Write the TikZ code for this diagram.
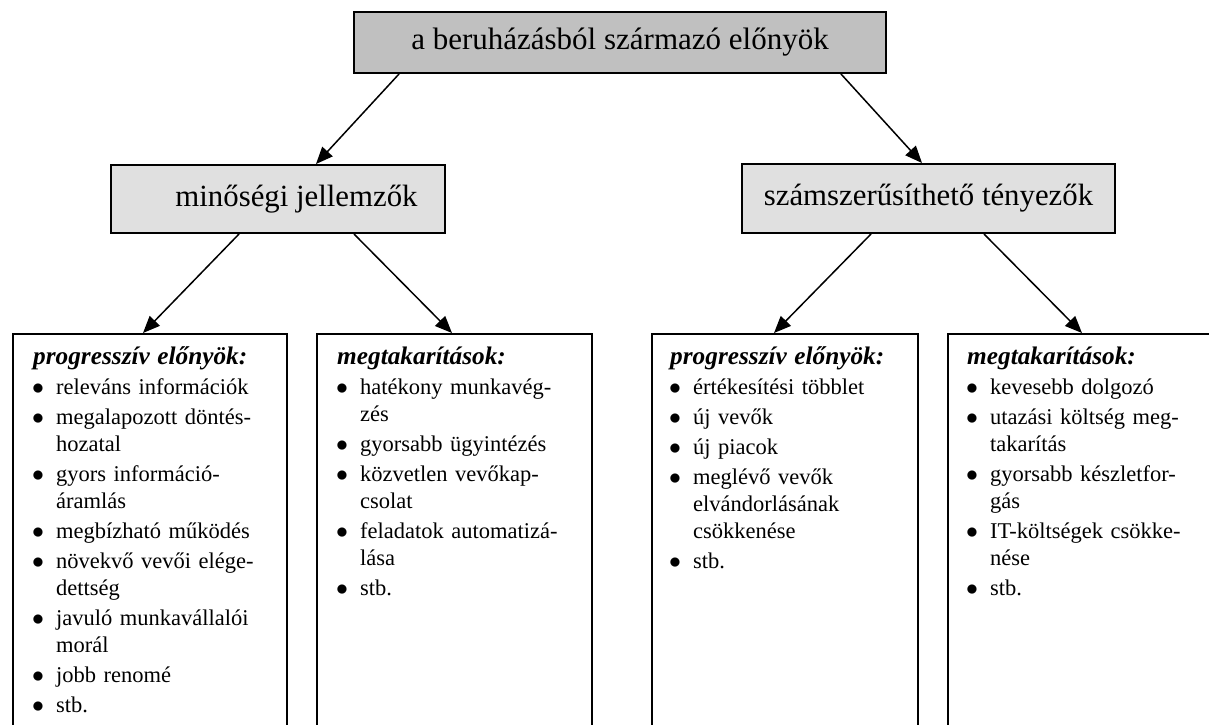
\documentclass[tikz,border=0pt]{standalone}
\usepackage{fontspec}
\setmainfont{Liberation Serif}
\usetikzlibrary{arrows.meta,calc}
\definecolor{topgray}{RGB}{192,192,192}
\definecolor{midgray}{RGB}{224,224,224}
\tikzset{
 topbox/.style={draw, line width=2pt, fill=topgray, inner sep=0pt, font=\fontsize{31}{35}\selectfont},
 midbox/.style={draw, line width=2pt, fill=midgray, inner sep=0pt, font=\fontsize{30.8}{35}\selectfont},
 listbox/.style={draw, line width=1.8pt, inner sep=0pt, anchor=north west},
 listtext/.style={inner sep=0pt, anchor=base west, text width=300pt, font=\fontsize{22.5}{27}\selectfont},
 conn/.style={line width=1.5pt, -{Triangle[length=17pt,width=14pt]}},
}
\newcommand\hd[1]{\raggedright\parskip=3pt\noindent{\fontsize{25.3}{27}\selectfont\bfseries\itshape #1}\par}
\newcommand\bl[1]{\hangindent=23pt\hangafter=1\noindent\makebox[23pt][l]{\hspace{-1pt}\scalebox{1.15}{$\bullet$}}#1\par}
\begin{document}
\begin{tikzpicture}[x=1pt,y=-1pt]
\clip (0,0) rectangle (1209,724);
\fill[white] (0,0) rectangle (1209,724);
\node[topbox, minimum width=532pt, minimum height=61pt] (top) at (620,42.5) {a beruházásból származó előnyök};
\node[midbox, minimum width=334pt, minimum height=68pt] (midL) at (278,199) {\hspace*{37pt}minőségi jellemzők};
\node[midbox, minimum width=373pt, minimum height=69pt] (midR) at (928.5,198.5) {számszerűsíthető tényezők};
\node[listbox, minimum width=274pt, minimum height=450pt] (b1) at (12,333) {};
\node[listbox, minimum width=275pt, minimum height=450pt] (b2) at (316,333) {};
\node[listbox, minimum width=266pt, minimum height=450pt] (b3) at (651,333) {};
\node[listbox, minimum width=268pt, minimum height=450pt] (b4) at (947,333) {};
\node[listtext] (t1) at ($(b1.north west)+(21,31)$) {\hd{progresszív előnyök:}
\bl{releváns információk}
\bl{megalapozott döntés-\newline hozatal}
\bl{gyors információ-\newline áramlás}
\bl{megbízható működés}
\bl{növekvő vevői elége-\newline dettség}
\bl{javuló munkavállalói\newline morál}
\bl{jobb renomé}
\bl{stb.}};
\node[listtext] (t2) at ($(b2.north west)+(21,31)$) {\hd{megtakarítások:}
\bl{hatékony munkavég-\newline zés}
\bl{gyorsabb ügyintézés}
\bl{közvetlen vevőkap-\newline csolat}
\bl{feladatok automatizá-\newline lása}
\bl{stb.}};
\node[listtext] (t3) at ($(b3.north west)+(19,31)$) {\hd{progresszív előnyök:}
\bl{értékesítési többlet}
\bl{új vevők}
\bl{új piacok}
\bl{meglévő vevők\newline elvándorlásának\newline csökkenése}
\bl{stb.}};
\node[listtext] (t4) at ($(b4.north west)+(20,31)$) {\hd{megtakarítások:}
\bl{kevesebb dolgozó}
\bl{utazási költség meg-\newline takarítás}
\bl{gyorsabb készletfor-\newline gás}
\bl{IT-költségek csökke-\newline nése}
\bl{stb.}};
\draw[conn] ($(top.south west)+(46,0)$) -- ($(midL.north west)+(206,0)$);
\draw[conn] ($(top.south west)+(488,0)$) -- ($(midR.north west)+(181,0)$);
\draw[conn] ($(midL.south west)+(129,0)$) -- ($(b1.north west)+(131,0)$);
\draw[conn] ($(midL.south west)+(244,0)$) -- ($(b2.north west)+(136,0)$);
\draw[conn] ($(midR.south west)+(130,0)$) -- ($(b3.north west)+(123,0)$);
\draw[conn] ($(midR.south west)+(243,0)$) -- ($(b4.north west)+(135,0)$);
\end{tikzpicture}
\end{document}
